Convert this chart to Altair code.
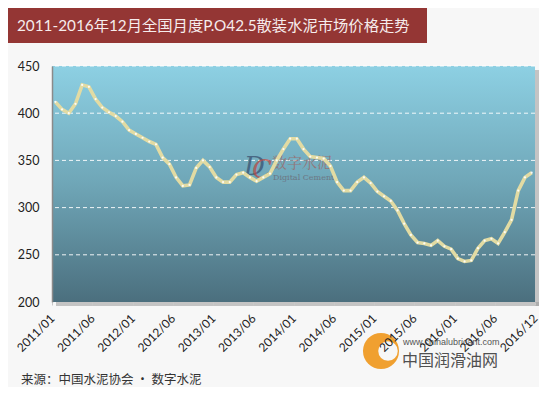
import altair as alt
import pandas as pd

# Monthly price, 2011/01 .. 2016/12 (yuan/ton)
prices = [412, 404, 400, 410, 430, 428, 415, 406, 401, 397, 391, 382,
          378, 374, 370, 367, 353, 346, 332, 323, 324, 342, 350, 343,
          332, 327, 327, 335, 337, 332, 328, 332, 336, 350, 362, 373,
          373, 362, 354, 353, 352, 344, 327, 318, 318, 327, 332, 326,
          317, 312, 307, 297, 283, 271, 263, 262, 260, 265, 259, 256,
          246, 243, 244, 257, 265, 267, 262, 274, 287, 318, 332, 337]

tick_labels = ["2011/01", "2011/06", "2012/01", "2012/06", "2013/01", "2013/06",
               "2014/01", "2014/06", "2015/01", "2015/06", "2016/01", "2016/06",
               "2016/12"]
tick_values = [i * 6 for i in range(len(tick_labels))]
grid_values = [250, 300, 350, 400, 450]

title_text = "2011-2016年12月全国月度P.O42.5散装水泥市场价格走势"
source_text = "来源：中国水泥协会 · 数字水泥"

FONT = "Lato, 'Noto Sans CJK SC', sans-serif"
W, H = 483, 236

df = pd.DataFrame({"idx": [i + 0.5 for i in range(len(prices))], "price": prices})
grid_df = pd.DataFrame({"v": grid_values})
one = pd.DataFrame({"t": [0]})

label_expr = "[" + ",".join("'%s'" % t for t in tick_labels) + "][round(datum.value/6)]"

xenc = alt.X("idx:Q",
             scale=alt.Scale(domain=[0, 72], nice=False, zero=False),
             axis=alt.Axis(values=tick_values, labelExpr=label_expr, title=None,
                           grid=False, domain=False, ticks=True, tickSize=3,
                           tickColor="#c8c8c8", labelAngle=-45, labelAlign="right",
                           labelBaseline="middle", labelPadding=11, labelFontSize=12,
                           labelColor="#222222", labelFont=FONT, labelOverlap=False,
                           labelFlush=False, zindex=1))
yscale = alt.Scale(domain=[200, 450], nice=False, zero=False)
yenc = alt.Y("price:Q", scale=yscale,
             axis=alt.Axis(values=[200, 250, 300, 350, 400, 450], title=None, grid=False,
                           ticks=False, domainColor="#8a8a8a", domainWidth=1.5,
                           labelPadding=13, labelFontSize=12.5, labelColor="#222222",
                           labelFont=FONT, zindex=1))

gradient = alt.Gradient(gradient="linear", x1=0, y1=0, x2=0, y2=1,
                        stops=[alt.GradientStop(color="#8dd0e3", offset=0),
                               alt.GradientStop(color="#6fa6b7", offset=0.5),
                               alt.GradientStop(color="#4b6f7e", offset=1)])

shadow_r = alt.Chart(one).mark_rect(color="#9a9a9a", opacity=0.55).encode(
    x=alt.value(W), x2=alt.value(W + 4), y=alt.value(4), y2=alt.value(H + 4))
shadow_b = alt.Chart(one).mark_rect(color="#9a9a9a", opacity=0.55).encode(
    x=alt.value(4), x2=alt.value(W + 4), y=alt.value(H), y2=alt.value(H + 4))
bg = alt.Chart(one).mark_rect(fill=gradient).encode(
    x=alt.value(0), x2=alt.value(W), y=alt.value(0), y2=alt.value(H))

grid = alt.Chart(grid_df).mark_rule(color="white", strokeDash=[4, 3], strokeWidth=1,
                                    opacity=0.9).encode(
    y=alt.Y("v:Q", scale=yscale))

# DC watermark inside plot
dc_d = alt.Chart(one).mark_text(text="D", font="'DejaVu Serif', serif", fontSize=26,
                                fontStyle="italic", color="#3d5775", opacity=0.8,
                                align="left", baseline="middle").encode(
    x=alt.value(192), y=alt.value(101))
dc_c = alt.Chart(one).mark_text(text="C", font="'DejaVu Serif', serif", fontSize=26,
                                fontStyle="italic", color="#b84a45", opacity=0.75,
                                align="left", baseline="middle").encode(
    x=alt.value(200), y=alt.value(104))
dc_cn = alt.Chart(one).mark_text(text="数字水泥", font="'Noto Serif CJK SC', 'Noto Sans CJK SC'",
                                 fontSize=15, color="#9b6a6a", opacity=0.8,
                                 align="left", baseline="middle").encode(
    x=alt.value(220), y=alt.value(97))
dc_en = alt.Chart(one).mark_text(text="Digital Cement", font="'DejaVu Serif', serif",
                                 fontSize=8, color="#6c6c78", opacity=0.8,
                                 align="left", baseline="middle").encode(
    x=alt.value(221), y=alt.value(112))

line = alt.Chart(df).mark_line(color="#e2dba3", strokeWidth=3.6).encode(x=xenc, y=yenc)
pts = alt.Chart(df).mark_point(filled=True, color="#ffffff", size=5, opacity=0.9).encode(
    x="idx:Q", y="price:Q")

title_bar = alt.Chart(one).mark_rect(color="#943634").encode(
    x=alt.value(-44), x2=alt.value(375), y=alt.value(-58), y2=alt.value(-23))
title = alt.Chart(one).mark_text(text=title_text, font=FONT, fontSize=15.3, color="#f6ecec",
                                 align="left", baseline="middle").encode(
    x=alt.value(-35), y=alt.value(-40))

source = alt.Chart(one).mark_text(text=source_text, font="'Noto Sans CJK SC'", fontSize=12.5,
                                  color="#333333", align="left", baseline="middle").encode(
    x=alt.value(-31), y=alt.value(314))

logo_o = alt.Chart(one).mark_point(filled=True, shape="circle", color="#f0a030",
                                   size=1300, opacity=1).encode(
    x=alt.value(329), y=alt.value(285))
logo_i = alt.Chart(one).mark_point(filled=True, shape="circle", color="#f7f7f7",
                                   size=380, opacity=1).encode(
    x=alt.value(336), y=alt.value(285))
logo_url = alt.Chart(one).mark_text(text="www.chinalubricant.com", font="'Liberation Sans'",
                                    fontSize=9, color="#555555", align="left",
                                    baseline="middle").encode(
    x=alt.value(351), y=alt.value(276))
logo_cn = alt.Chart(one).mark_text(text="中国润滑油网", font="'Noto Sans CJK SC'",
                                   fontSize=16, color="#505050", align="left",
                                   baseline="middle").encode(
    x=alt.value(350), y=alt.value(295))

chart = alt.layer(
    shadow_r, shadow_b, bg, grid, dc_d, dc_c, dc_cn, dc_en, line, pts,
    title_bar, title, source, logo_o, logo_i, logo_url, logo_cn
).properties(
    width=W, height=H,
    padding={"left": 44, "top": 58, "right": 4, "bottom": 85},
    autosize=alt.AutoSizeParams(type="none"),
    background="#f7f7f7",
).configure_view(strokeWidth=0)

chart.save("out.html", embed_options={"renderer": "svg", "actions": False})
